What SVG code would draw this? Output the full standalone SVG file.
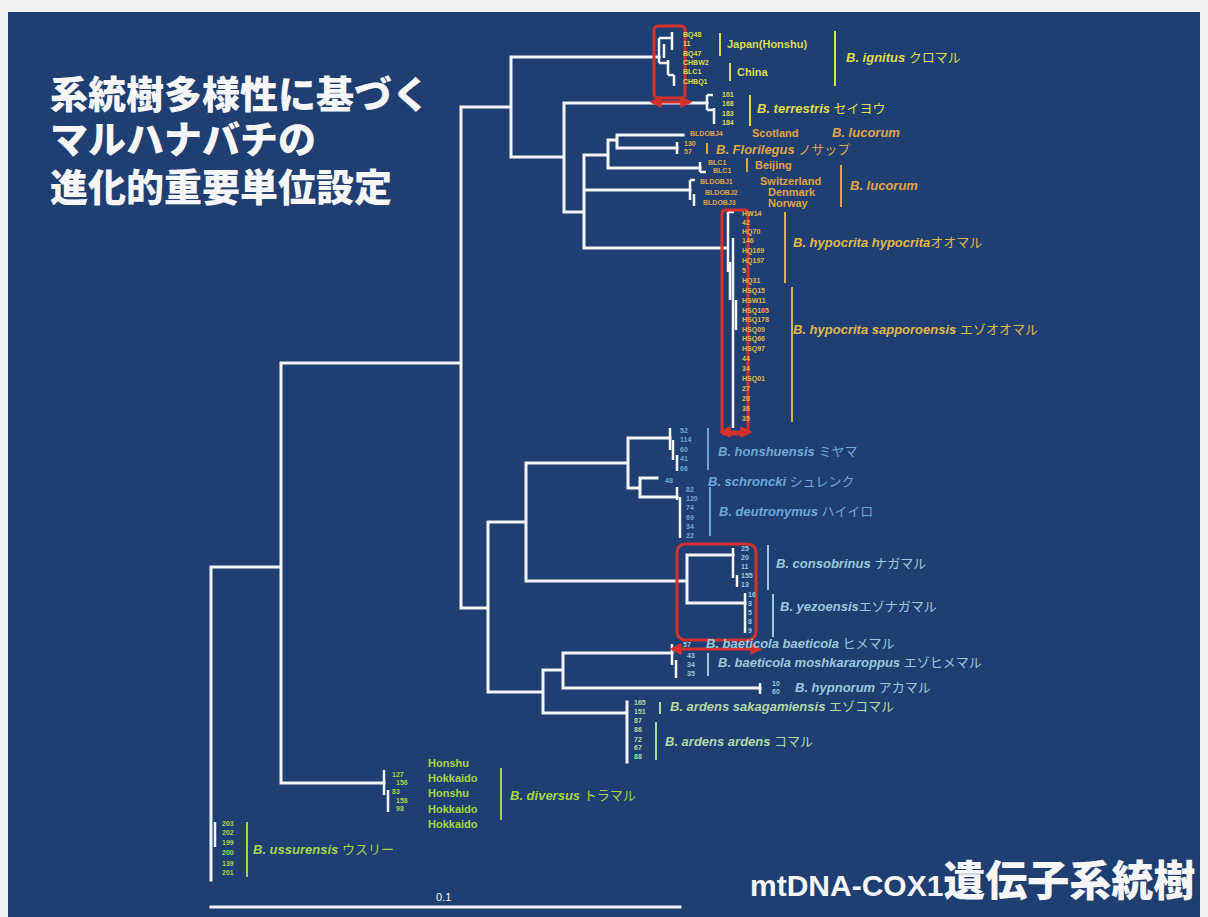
<svg xmlns="http://www.w3.org/2000/svg" width="1208" height="917" viewBox="0 0 1208 917">
<defs>
<style>
.bg{fill:#1f3f72}
.br{fill:none;stroke:#f4f4f4;stroke-width:3;stroke-linecap:square}
.tb{fill:none;stroke:#f4f4f4;stroke-width:2.5}
.red{fill:none;stroke:#d6302c;stroke-width:3}
.bar{stroke-width:2}
.lf{font-family:"Liberation Sans",Arial,sans-serif;font-size:7px;font-weight:bold}
.pl{font-family:"Liberation Sans",Arial,sans-serif;font-size:11px;font-weight:bold}
.sp{font-family:"Liberation Sans","Noto Sans CJK JP",sans-serif;font-size:13px;font-weight:bold;font-style:italic}
.jp{font-family:"Noto Sans CJK JP",sans-serif;font-style:normal;font-weight:normal}
.yl{fill:#dcdc4c}.ylb{stroke:#dcdc4c}
.or{fill:#e0a444}.orb{stroke:#e0a444}
.gd{fill:#e0b844}.gdb{stroke:#d8b448}
.bl{fill:#6ea8da}.blb{stroke:#6ea8da}
.cy{fill:#9cc8dc}.cyb{stroke:#9cc8dc}
.gr{fill:#b4d8a8}.grb{stroke:#b4d8a8}
.lg{fill:#a8d448}.lgb{stroke:#a8d448}
.ttl{font-family:"Liberation Sans","Noto Sans CJK JP",sans-serif;font-weight:900;fill:#f6f6f6}
</style>
<marker id="ra" viewBox="0 0 10 10" refX="8" refY="5" markerWidth="4" markerHeight="4" orient="auto-start-reverse">
<path d="M0,0 L10,5 L0,10 z" fill="#d6302c"/>
</marker>
</defs>
<rect width="1208" height="917" fill="#f2f2f2"/>
<rect class="bg" x="8" y="12" width="1192" height="905"/>

<g id="title">
<text class="ttl" x="50" y="108" font-size="38">系統樹多様性に基づく</text>
<text class="ttl" x="50" y="153" font-size="38">マルハナバチの</text>
<text class="ttl" x="50" y="201" font-size="38">進化的重要単位設定</text>
</g>
<g id="subtitle">
<text class="ttl" x="750" y="896" font-size="42"><tspan font-size="30" font-family="Liberation Sans, sans-serif" font-weight="bold">mtDNA-COX1</tspan>遺伝子系統樹</text>
</g>

<g id="connectors">
<path class="br" d="M211,567 V880 M211,567 H281 M281,363 V783 M281,363 H461 M281,783 H384
M461,107 V608 M461,107 H511 M511,57 V157 M511,57 H659 M511,157 H564
M564,103 V212 M564,103 H707 M564,212 H584 M584,155 V248 M584,155 H608
M608,140 V168 M608,140 H617 M617,135 V148 M617,135 H683 M617,148 H677 M608,168 H700
M584,190 H690 M584,248 H727
M461,608 H488 M488,522 V692 M488,522 H526 M526,463 V581 M526,463 H628
M628,438 V488 M628,438 H670 M628,488 H640 M640,478 V497 M640,478 H657 M640,497 H677
M526,581 H687 M687,555 V603 M687,555 H733 M687,603 H745
M488,692 H543 M543,670 V713 M543,670 H563 M563,653 V688 M563,653 H672 M563,688 H760
M543,713 H627 M627,702 V762"/>
<path class="tb" d="M659,38 V63 M659,38 H672 M672,32 V50 M664,44 V58 M659,63 H668 M668,60 V75 M668,75 H674 M674,75 V86
M707,95 V110 M707,95 H713 M707,110 H714 M714,108 V124
M677,142 V154 M700,162 V172 M700,172 H706 M690,180 V200 M690,180 H695 M694,194 V206
M728,212 V272 M728,212 H734 M733,238 V428 M730,262 V300 M736,300 V330
M670,428 V450 M673,440 V460 M677,455 V471
M677,487 V500 M680,497 V538
M733,548 V578 M737,575 V587 M745,593 V633
M672,644 V665 M676,660 V678
M760,683 V694
M384,770 V795 M388,790 V812
M215,822 V847"/>
<path class="br" d="M211,907 H680" stroke-width="2.5"/>
</g>
<text x="436" y="901" font-family="Liberation Sans,Arial,sans-serif" font-size="11" fill="#f4f4f4">0.1</text>

<g id="highlights">
<rect class="red" x="654" y="26" width="31" height="72" rx="4"/>
<path class="red" d="M652,102 H690" marker-start="url(#ra)" marker-end="url(#ra)"/>
<rect class="red" x="722" y="210" width="26" height="224" rx="3"/>
<path class="red" d="M721,432 H750" marker-start="url(#ra)" marker-end="url(#ra)"/>
<rect class="red" x="677" y="544" width="79" height="96" rx="8"/>
<path class="red" d="M672,649 H760" marker-start="url(#ra)" marker-end="url(#ra)"/>
</g>

<g id="ignitus">
<text class="lf yl" x="683" y="37">BQ48</text>
<text class="lf yl" x="683" y="46">11</text>
<text class="lf yl" x="683" y="56">BQ47</text>
<text class="lf yl" x="683" y="65">CHBW2</text>
<text class="lf yl" x="683" y="74">BLC1</text>
<text class="lf yl" x="683" y="84">CHBQ1</text>
<line class="bar ylb" x1="720" y1="33" x2="720" y2="56"/>
<text class="pl yl" x="727" y="48">Japan(Honshu)</text>
<line class="bar ylb" x1="730" y1="63" x2="730" y2="81"/>
<text class="pl yl" x="737" y="76">China</text>
<line class="bar ylb" x1="835" y1="31" x2="835" y2="86"/>
<text class="sp yl" x="846" y="62">B. ignitus <tspan class="jp">クロマル</tspan></text>
</g>

<g id="terrestris">
<text class="lf yl" x="722" y="97">101</text>
<text class="lf yl" x="722" y="106">168</text>
<text class="lf yl" x="722" y="116">183</text>
<text class="lf yl" x="722" y="125">184</text>
<line class="bar ylb" x1="750" y1="95" x2="750" y2="126"/>
<text class="sp yl" x="757" y="113">B. terrestris <tspan class="jp">セイヨウ</tspan></text>
</g>

<g id="lucorum-scotland">
<text class="lf or" x="690" y="136">BLDOBJ4</text>
<text class="pl or" x="752" y="137">Scotland</text>
<text class="sp or" x="832" y="137">B. lucorum</text>
</g>
<g id="florilegus">
<text class="lf or" x="684" y="146">130</text>
<text class="lf or" x="684" y="154">57</text>
<line class="bar orb" x1="707" y1="143" x2="707" y2="154"/>
<text class="sp or" x="716" y="154">B. Florilegus <tspan class="jp">ノサップ</tspan></text>
</g>
<g id="lucorum">
<text class="lf or" x="708" y="165">BLC1</text>
<text class="lf or" x="713" y="173">BLC1</text>
<line class="bar orb" x1="747" y1="158" x2="747" y2="172"/>
<text class="pl or" x="755" y="169">Beijing</text>
<text class="lf or" x="700" y="184">BLDOBJ1</text>
<text class="lf or" x="705" y="195">BLDOBJ2</text>
<text class="lf or" x="703" y="205">BLDOBJ3</text>
<text class="pl or" x="760" y="185">Switzerland</text>
<text class="pl or" x="768" y="196">Denmark</text>
<text class="pl or" x="768" y="207">Norway</text>
<line class="bar orb" x1="841" y1="165" x2="841" y2="207"/>
<text class="sp or" x="850" y="190">B. lucorum</text>
</g>

<g id="hypocrita">
<text class="lf gd" x="742" y="216">HW14</text>
<text class="lf gd" x="742" y="225">42</text>
<text class="lf gd" x="742" y="234">HQ70</text>
<text class="lf gd" x="742" y="243">146</text>
<text class="lf gd" x="742" y="253">HQ169</text>
<text class="lf gd" x="742" y="263">HQ197</text>
<text class="lf gd" x="742" y="273">5</text>
<text class="lf gd" x="742" y="283">HQ31</text>
<line class="bar gdb" x1="785" y1="212" x2="785" y2="283"/>
<text class="sp gd" x="793" y="247">B. hypocrita hypocrita<tspan class="jp">オオマル</tspan></text>
</g>
<g id="sapporoensis">
<text class="lf gd" x="742" y="293">HSQ15</text>
<text class="lf gd" x="742" y="303">HSW11</text>
<text class="lf gd" x="742" y="313">HSQ105</text>
<text class="lf gd" x="742" y="322">HSQ178</text>
<text class="lf gd" x="742" y="332">HSQ09</text>
<text class="lf gd" x="742" y="341">HSQ66</text>
<text class="lf gd" x="742" y="351">HSQ97</text>
<text class="lf gd" x="742" y="361">44</text>
<text class="lf gd" x="742" y="371">34</text>
<text class="lf gd" x="742" y="381">HSQ01</text>
<text class="lf gd" x="742" y="391">27</text>
<text class="lf gd" x="742" y="401">28</text>
<text class="lf gd" x="742" y="411">36</text>
<text class="lf gd" x="742" y="421">35</text>
<line class="bar gdb" x1="792" y1="287" x2="792" y2="422"/>
<text class="sp gd" x="793" y="334">B. hypocrita sapporoensis <tspan class="jp">エゾオオマル</tspan></text>
</g>

<g id="honshuensis">
<text class="lf bl" x="680" y="433">52</text>
<text class="lf bl" x="680" y="442">114</text>
<text class="lf bl" x="680" y="452">60</text>
<text class="lf bl" x="680" y="461">41</text>
<text class="lf bl" x="680" y="471">66</text>
<line class="bar blb" x1="708" y1="428" x2="708" y2="470"/>
<text class="sp bl" x="718" y="456">B. honshuensis <tspan class="jp">ミヤマ</tspan></text>
</g>
<g id="schroncki">
<text class="lf bl" x="665" y="483">48</text>
<text class="sp bl" x="708" y="486">B. schroncki <tspan class="jp">シュレンク</tspan></text>
</g>
<g id="deutronymus">
<text class="lf bl" x="686" y="492">82</text>
<text class="lf bl" x="686" y="501">120</text>
<text class="lf bl" x="686" y="510">74</text>
<text class="lf bl" x="686" y="520">69</text>
<text class="lf bl" x="686" y="529">34</text>
<text class="lf bl" x="686" y="538">22</text>
<line class="bar blb" x1="710" y1="487" x2="710" y2="536"/>
<text class="sp bl" x="719" y="516">B. deutronymus <tspan class="jp">ハイイロ</tspan></text>
</g>

<g id="consobrinus">
<text class="lf cy" x="741" y="551">25</text>
<text class="lf cy" x="741" y="560">20</text>
<text class="lf cy" x="741" y="569">11</text>
<text class="lf cy" x="741" y="578">155</text>
<text class="lf cy" x="741" y="587">13</text>
<line class="bar cyb" x1="768" y1="545" x2="768" y2="590"/>
<text class="sp cy" x="776" y="568">B. consobrinus <tspan class="jp">ナガマル</tspan></text>
</g>
<g id="yezoensis">
<text class="lf cy" x="748" y="597">16</text>
<text class="lf cy" x="748" y="606">3</text>
<text class="lf cy" x="748" y="615">5</text>
<text class="lf cy" x="748" y="624">8</text>
<text class="lf cy" x="748" y="633">9</text>
<line class="bar cyb" x1="773" y1="594" x2="773" y2="637"/>
<text class="sp cy" x="780" y="611">B. yezoensis<tspan class="jp">エゾナガマル</tspan></text>
</g>

<g id="baeticola">
<text class="lf cy" x="683" y="647">57</text>
<text class="sp cy" x="706" y="648">B. baeticola baeticola <tspan class="jp">ヒメマル</tspan></text>
<text class="lf cy" x="687" y="658">43</text>
<text class="lf cy" x="687" y="667">34</text>
<text class="lf cy" x="687" y="676">35</text>
<line class="bar cyb" x1="708" y1="653" x2="708" y2="676"/>
<text class="sp cy" x="718" y="667">B. baeticola moshkararoppus <tspan class="jp">エゾヒメマル</tspan></text>
</g>

<g id="hypnorum">
<text class="lf cy" x="772" y="686">10</text>
<text class="lf cy" x="772" y="694">60</text>
<text class="sp cy" x="795" y="692">B. hypnorum <tspan class="jp">アカマル</tspan></text>
</g>

<g id="ardens">
<text class="lf gr" x="634" y="705">165</text>
<text class="lf gr" x="634" y="714">151</text>
<text class="lf gr" x="634" y="723">87</text>
<text class="lf gr" x="634" y="732">86</text>
<text class="lf gr" x="634" y="742">72</text>
<text class="lf gr" x="634" y="750">67</text>
<text class="lf gr" x="634" y="759">88</text>
<line class="bar grb" x1="660" y1="702" x2="660" y2="714"/>
<text class="sp gr" x="670" y="711">B. ardens sakagamiensis <tspan class="jp">エゾコマル</tspan></text>
<line class="bar grb" x1="656" y1="722" x2="656" y2="760"/>
<text class="sp gr" x="665" y="746">B. ardens ardens <tspan class="jp">コマル</tspan></text>
</g>

<g id="diversus">
<text class="lf lg" x="392" y="777">127</text>
<text class="lf lg" x="396" y="785">156</text>
<text class="lf lg" x="392" y="794">83</text>
<text class="lf lg" x="396" y="803">158</text>
<text class="lf lg" x="396" y="811">98</text>
<text class="pl lg" x="428" y="767">Honshu</text>
<text class="pl lg" x="428" y="782">Hokkaido</text>
<text class="pl lg" x="428" y="797">Honshu</text>
<text class="pl lg" x="428" y="813">Hokkaido</text>
<text class="pl lg" x="428" y="828">Hokkaido</text>
<line class="bar lgb" x1="501" y1="768" x2="501" y2="820"/>
<text class="sp lg" x="510" y="800">B. diversus <tspan class="jp">トラマル</tspan></text>
</g>

<g id="ussurensis">
<text class="lf lg" x="222" y="826">203</text>
<text class="lf lg" x="222" y="835">202</text>
<text class="lf lg" x="222" y="845">199</text>
<text class="lf lg" x="222" y="855">200</text>
<text class="lf lg" x="222" y="866">139</text>
<text class="lf lg" x="222" y="875">201</text>
<line class="bar lgb" x1="247" y1="822" x2="247" y2="877"/>
<text class="sp lg" x="253" y="854">B. ussurensis <tspan class="jp">ウスリー</tspan></text>
</g>
</svg>
